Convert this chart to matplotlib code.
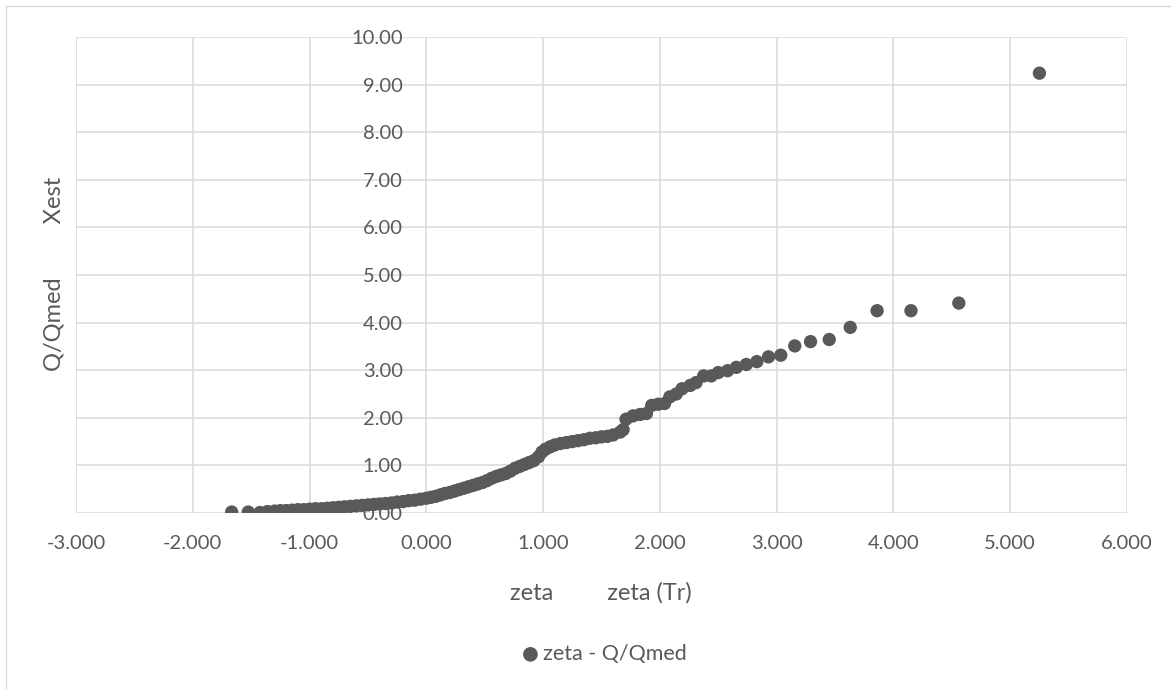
import numpy as np
import matplotlib
matplotlib.use("Agg")
import matplotlib.pyplot as plt
from matplotlib.patches import Rectangle

# datos (zeta vs Q/Qmed)
zeta = [-1.667, -1.525, -1.425, -1.360, -1.300, -1.250, -1.200, -1.150, -1.100, -1.050,
        -1.000, -0.950, -0.900, -0.850, -0.800, -0.750, -0.700, -0.650, -0.600, -0.550,
        -0.500, -0.450, -0.400, -0.350, -0.300, -0.250, -0.200, -0.150, -0.100, -0.050,
        0.000, 0.040, 0.080, 0.120, 0.160, 0.200, 0.240, 0.280, 0.320, 0.360,
        0.400, 0.440, 0.480, 0.520, 0.560, 0.600, 0.640, 0.680, 0.720, 0.760,
        0.800, 0.840, 0.880, 0.920, 0.960, 0.990, 1.020, 1.060, 1.100, 1.150,
        1.200, 1.250, 1.300, 1.350, 1.400, 1.450, 1.500, 1.550, 1.600, 1.660,
        1.685, 1.710, 1.770, 1.830, 1.885, 1.930, 1.985, 2.040, 2.085, 2.140,
        2.190, 2.260, 2.310, 2.375, 2.440, 2.500, 2.580, 2.655, 2.740, 2.830,
        2.930, 3.035, 3.155, 3.290, 3.450, 3.630, 3.860, 4.150, 4.560, 5.250]
q_qmed = [0.02, 0.02, 0.01, 0.03, 0.04, 0.05, 0.05, 0.06, 0.07, 0.07,
          0.08, 0.09, 0.09, 0.10, 0.11, 0.12, 0.13, 0.14, 0.15, 0.16,
          0.17, 0.18, 0.19, 0.20, 0.21, 0.23, 0.24, 0.26, 0.27, 0.29,
          0.31, 0.33, 0.35, 0.38, 0.41, 0.43, 0.46, 0.49, 0.52, 0.55,
          0.58, 0.61, 0.64, 0.68, 0.73, 0.77, 0.80, 0.83, 0.88, 0.94,
          0.98, 1.02, 1.06, 1.10, 1.18, 1.28, 1.34, 1.39, 1.43, 1.46,
          1.48, 1.50, 1.52, 1.54, 1.57, 1.58, 1.60, 1.61, 1.64, 1.70,
          1.75, 1.97, 2.04, 2.07, 2.09, 2.26, 2.285, 2.30, 2.44, 2.50,
          2.61, 2.68, 2.74, 2.88, 2.88, 2.95, 2.99, 3.06, 3.12, 3.18,
          3.28, 3.315, 3.51, 3.60, 3.645, 3.90, 4.25, 4.25, 4.41, 9.24]

x_ticks = [-3, -2, -1, 0, 1, 2, 3, 4, 5, 6]
y_ticks = [0, 1, 2, 3, 4, 5, 6, 7, 8, 9, 10]

gris = "#595959"
plt.rcParams['font.family'] = ['Lato', 'DejaVu Sans']

fig = plt.figure(figsize=(11.71, 6.89), dpi=100)
ax = fig.add_axes([76 / 1171, 1 - 513 / 689, (1127 - 76) / 1171, (513 - 37) / 689])

# marco exterior del grafico (solo se ven los bordes izquierdo y superior)
fig.patches.append(Rectangle((6 / 1171, -0.2), 1.2, 1.2 - 6 / 689, transform=fig.transFigure,
                             fill=False, edgecolor="#d9d9d9", linewidth=1.0))

ax.scatter(zeta, q_qmed, s=92, color=gris, edgecolors="none", zorder=3, label="zeta - Q/Qmed")

ax.set_xlim(-3, 6)
ax.set_ylim(0, 10)
ax.set_xticks(x_ticks)
ax.set_yticks(y_ticks)
ax.set_xticklabels(["%.3f" % v for v in x_ticks])
ax.set_yticklabels(["%.2f" % v for v in y_ticks])
ax.grid(True, color="#d9d9d9", linewidth=1.1)
ax.set_axisbelow(True)

for s in ["top", "right", "bottom"]:
    ax.spines[s].set_visible(False)
ax.spines["left"].set_position(("data", 0))
ax.spines["left"].set_visible(False)
ax.tick_params(axis="both", length=0, labelsize=14.5, labelcolor=gris)
ax.tick_params(axis="x", pad=16)
ax.tick_params(axis="y", pad=17)

ax.set_xlabel("zeta         zeta (Tr)", fontsize=17, color=gris)
ax.xaxis.set_label_coords((601 - 76) / 1051, -(582 - 513) / 476)
ax.set_ylabel("Q/Qmed         Xest", fontsize=17, color=gris, va="center")
ax.yaxis.set_label_coords((54 - 76) / 1051, (513 - 274) / 476)

fig.legend(loc="center", bbox_to_anchor=(598 / 1171, 1 - 654 / 689), frameon=False,
           fontsize=15.5, labelcolor=gris, handletextpad=-0.4, markerscale=1.1)

fig.savefig("out.png", dpi=100)
